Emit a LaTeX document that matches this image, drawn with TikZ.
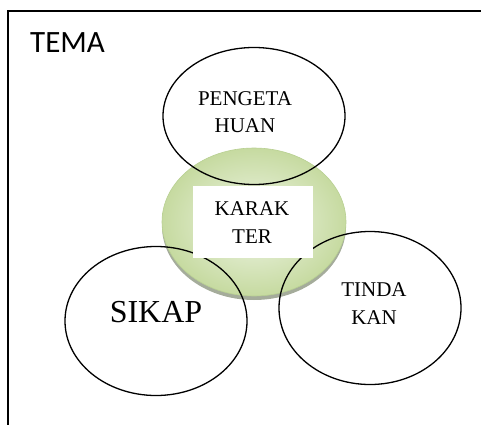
\documentclass[tikz,border=0pt]{standalone}
\usepackage{fontspec}
\setmainfont{Liberation Serif}
\newfontfamily\temafont{Carlito}
\usepackage{tikz}
\usetikzlibrary{shapes.geometric,positioning}
\definecolor{karakterlight}{RGB}{240,246,232}
\definecolor{karaktergreen}{RGB}{198,218,160}
\definecolor{karakterrim}{RGB}{184,208,146}
\definecolor{karaktershadow}{RGB}{165,172,155}
\tikzset{
	ring/.style={ellipse, draw=black, line width=1.3pt, minimum width=182pt, inner sep=0pt},
	word/.style={align=center, inner sep=0pt, font=\fontsize{21}{27.5}\selectfont}
}

\begin{document}
\begin{tikzpicture}[x=1pt,y=-1pt]
			\useasboundingbox (0,0) rectangle (481,425);
			
			% frame
			\draw[line width=1.1pt, black] (481,11) -- (8,11) -- (8,425);
			\node[font=\fontsize{31}{36}\temafont, inner sep=0pt] (tema) at (67.5,43) {TEMA};
			
			% centre
			\fill[karaktershadow] (254,226) ellipse (92 and 74);
			\shade[inner color=karakterlight, outer color=karaktergreen, draw=karakterrim, line width=0.6pt] (254,222) ellipse (92 and 74);
			
			\node[ring, minimum height=137pt] (pengetahuan) at (254,116) {};
			\node[ring, minimum height=149pt] (sikap) at (156,321) {};
			\node[ring, minimum height=153pt] (tindakan) at (370,308) {};
			
			\node[fill=white, minimum width=120pt, minimum height=72pt] (karakterbox) at (253,222) {};
			
			\node[word] (karakter) at (252,222.5) {KARAK\\TER};
			\node[word] (pengetahuantext) at (245,112) {PENGETA\\HUAN};
			\node[word] (tindakantext) at (374,303.5) {TINDA\\KAN};
			\node[inner sep=0pt, font=\fontsize{32}{38}\selectfont] (sikaptext) at (156,312.5) {SIKAP};
		\end{tikzpicture}
\end{document}
